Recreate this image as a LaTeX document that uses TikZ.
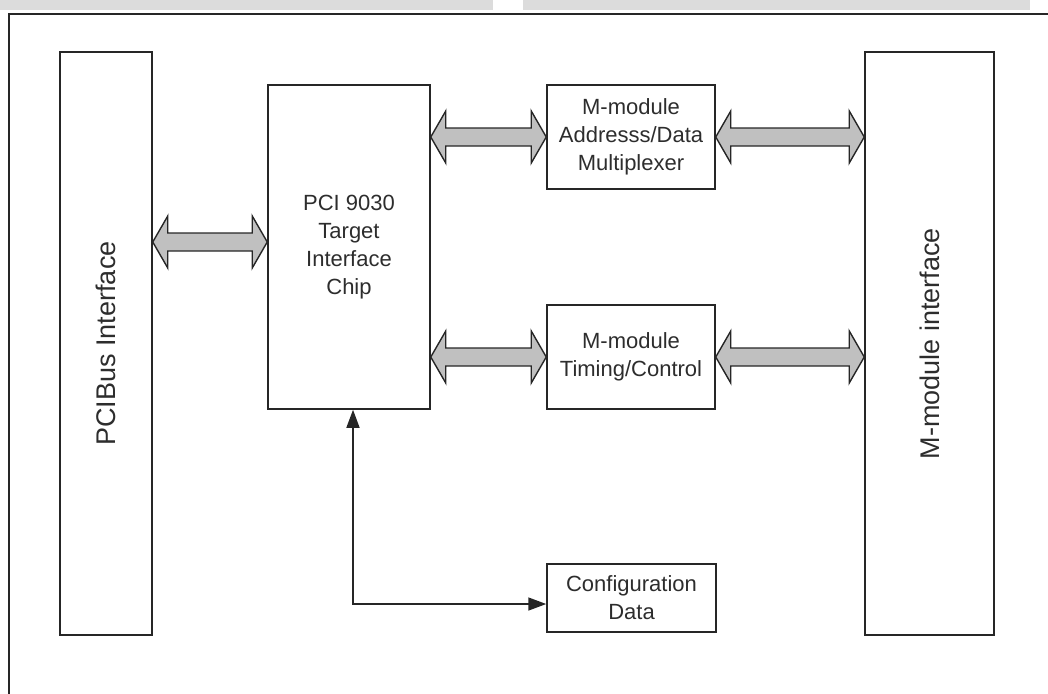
\documentclass[tikz,border=0pt]{standalone}
\usepackage{fontspec}
\setmainfont{Liberation Sans}
\usetikzlibrary{calc,arrows.meta}

\definecolor{busgray}{RGB}{192,192,192}
\definecolor{linegray}{RGB}{38,38,38}
\definecolor{bargray}{RGB}{220,220,220}
\definecolor{txtgray}{RGB}{45,45,45}

% flecha de bus doble entre dos puntos (horizontal)
\newcommand{\busarrow}[2]{%
  \draw[bus] (#1) -- ++(15,-26) -- ++(0,17) -- ($(#2)+(-15,-9)$) -- ++(0,-17)
    -- (#2) -- ++(-15,26) -- ++(0,-17) -- ($(#1)+(15,9)$) -- ++(0,17) -- cycle;}

\begin{document}
\begin{tikzpicture}[x=1pt,y=-1pt,
    block/.style={draw=linegray,line width=1.5pt,rectangle,align=center,
      text=txtgray,font=\fontsize{22}{28}\selectfont},
    bigtext/.style={text=txtgray,font=\fontsize{27}{32}\selectfont},
    bus/.style={draw=linegray,line width=1.4pt,fill=busgray,line join=miter},
    link/.style={draw=linegray,line width=1.5pt,{Triangle[length=18pt,width=13pt]}-{Triangle[length=18pt,width=13pt]}}]
    \clip (0,0) rectangle (1048,693);

    % Barras y marco
    \fill[bargray] (0,0) rectangle (493,10);
    \fill[bargray] (523,0) rectangle (1030,10);
    \draw[linegray,line width=1.8pt] (9,14) rectangle (1070,720);

    % Bloques
    \node[block,minimum width=92,minimum height=583] (pcibus) at (106,343.5) {};
    \node[bigtext,rotate=90] (pcibuslbl) at (pcibus.center) {PCIBus Interface};
    \node[block,minimum width=129,minimum height=583] (mmod) at (929.5,343.5) {};
    \node[bigtext,rotate=90] (mmodlbl) at (mmod.center) {M-module interface};
    \node[block,minimum width=162,minimum height=324] (chip) at (349,247)
      {PCI 9030\\Target\\Interface\\Chip};
    \node[block,minimum width=168,minimum height=104] (addr) at (631,137)
      {M-module\\Addresss/Data\\Multiplexer};
    \node[block,minimum width=168,minimum height=104] (timing) at (631,357)
      {M-module\\Timing/Control};
    \node[block,minimum width=169,minimum height=68] (config) at (631.5,598)
      {Configuration\\Data};

    % Flechas
    \coordinate (pciy) at (0,242);
    \busarrow{pcibus.east |- pciy}{chip.west |- pciy}
    \busarrow{chip.east |- addr.west}{addr.west}
    \busarrow{addr.east}{mmod.west |- addr.east}
    \busarrow{chip.east |- timing.west}{timing.west}
    \busarrow{timing.east}{mmod.west |- timing.east}

    \coordinate (cfgcorner) at (353,604);
    \draw[link] (chip.south -| cfgcorner) -- (cfgcorner) -- (config.west |- cfgcorner);
\end{tikzpicture}
\end{document}
